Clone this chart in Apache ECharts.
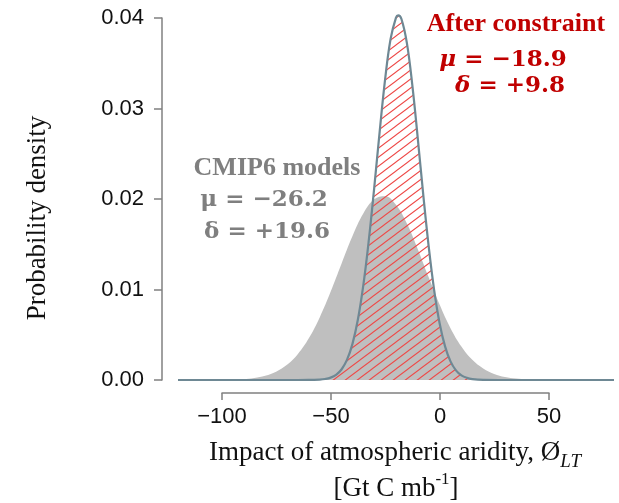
<!DOCTYPE html>
<html>
<head>
<meta charset="utf-8">
<script src="https://cdn.jsdelivr.net/npm/echarts@6/dist/echarts.min.js"></script>
<style>html,body{margin:0;padding:0;background:#fff;}#c{width:619px;height:503px;}</style>
</head>
<body>
<div id="c"></div>
<script>
// CMIP6 models distribution
const cmipX = [-120,-110,-100,-95,-90,-85,-80,-75,-70,-65,-60,-55,-50,-45,-40,-35,-30,-25,-20,-15,-10,-5,0,5,10,15,20,25,30,35,40,50,60,80];
const cmipY = [0,0.000002,0.000017,0.000043,0.000102,0.000226,0.000471,0.000917,0.001675,0.002867,0.004601,0.006911,0.00974,0.01285,0.01588,0.01840,0.01997,0.02031,0.01936,0.01729,0.01446,0.01134,0.00833,0.00573,0.00370,0.00223,0.00127,0.00067,0.00033,0.000156,0.000068,0.000011,0.000001,0];
// After constraint distribution
const afterX = [-120,-80,-70,-60,-55,-52.5,-50,-47.5,-45,-42.5,-40,-37.5,-35,-32.5,-30,-27.5,-25,-22.5,-20,-19,-17.5,-15,-12.5,-10,-7.5,-5,-2.5,0,2.5,5,7.5,10,12.5,15,20,30,80];
const afterY = [0,0,0,0.000006,0.000046,0.000113,0.000262,0.00057,0.001162,0.002217,0.003968,0.006654,0.01045,0.01539,0.02121,0.02742,0.03321,0.03767,0.04005,0.0403,0.03989,0.03723,0.03256,0.02668,0.02048,0.01474,0.00994,0.00628,0.00372,0.00206,0.00107,0.00052,0.000238,0.000102,0.000015,0,0];
const xTicks = [-100,-50,0,50];
const yTicks = [0,0.01,0.02,0.03,0.04];

// hatch pattern
const tile = document.createElement('canvas');
tile.width = 12; tile.height = 9;
const tc = tile.getContext('2d');
tc.strokeStyle = '#ee4a48';
tc.lineWidth = 1.1;
tc.beginPath();
tc.moveTo(-2, 9 + 1.5); tc.lineTo(14, -1.5);
tc.moveTo(-14, 9 + 1.5); tc.lineTo(2, -1.5);
tc.moveTo(10, 9 + 1.5); tc.lineTo(26, -1.5);
tc.stroke();

const chart = echarts.init(document.getElementById('c'), null, {renderer: 'canvas'});
const serif = '"Liberation Serif", "Times New Roman", serif';
const mathF = '"DejaVu Serif", serif';
const red = '#c00000';
const grey = '#7f7f7f';

chart.setOption({
  animation: false,
  backgroundColor: '#fff',
  grid: [
    {left: 178, right: 5, top: 18, bottom: 123},
    {left: 222, right: 70, top: 18, bottom: 123}
  ],
  xAxis: [
    {gridIndex: 0, type: 'value', min: -120, max: 80, show: false},
    {gridIndex: 1, type: 'value', min: xTicks[0], max: xTicks[xTicks.length-1], interval: 50, offset: 13,
     axisLine: {show: true, onZero: false, lineStyle: {color: '#808080', width: 1.5}},
     axisTick: {show: true, length: 7, lineStyle: {color: '#808080', width: 1.5}},
     splitLine: {show: false},
     axisLabel: {margin: 13, fontFamily: '"Liberation Sans", Arial, sans-serif', fontSize: 22, color: '#111',
       formatter: v => v < 0 ? '\u2212' + Math.abs(v) : String(v)}}
  ],
  yAxis: [
    {gridIndex: 0, type: 'value', min: yTicks[0], max: yTicks[yTicks.length-1], interval: 0.01, offset: 16,
     axisLine: {show: true, onZero: false, lineStyle: {color: '#808080', width: 1.5}},
     axisTick: {show: true, length: 8, lineStyle: {color: '#808080', width: 1.5}},
     splitLine: {show: false},
     axisLabel: {margin: 18, fontFamily: '"Liberation Sans", Arial, sans-serif', fontSize: 22, color: '#111',
       formatter: v => v.toFixed(2)}},
    {gridIndex: 1, type: 'value', min: 0, max: 0.04, show: false}
  ],
  series: [
    {
      name: 'CMIP6 models', type: 'line', xAxisIndex: 0, yAxisIndex: 0,
      data: cmipX.map((x, i) => [x, cmipY[i]]),
      smooth: 0.4, showSymbol: false, clip: false,
      lineStyle: {width: 0, color: '#bfbfbf'},
      areaStyle: {color: '#bfbfbf', opacity: 1},
      z: 1
    },
    {
      name: 'After constraint', type: 'line', xAxisIndex: 0, yAxisIndex: 0,
      data: afterX.map((x, i) => [x, afterY[i]]),
      smooth: 0.4, showSymbol: false, clip: false,
      lineStyle: {width: 2.2, color: '#6e8894'},
      areaStyle: {color: {image: tile, repeat: 'repeat'}, opacity: 1},
      z: 2
    }
  ],
  graphic: [
    {type: 'text', x: 38, y: 218, rotation: Math.PI / 2,
     style: {text: 'Probability density', font: '27px ' + serif, fill: '#111', align: 'center', verticalAlign: 'middle'}},
    {type: 'text', x: 395, y: 453,
     style: {text: '{m|Impact of atmospheric aridity, \u00d8}{s|LT}', align: 'center', verticalAlign: 'middle',
       rich: {m: {font: '27px ' + serif, fill: '#111', lineHeight: 36},
              s: {font: 'italic 19px ' + serif, fill: '#111', lineHeight: 18, verticalAlign: 'bottom'}}}},
    {type: 'text', x: 396, y: 489,
     style: {text: '{m|[Gt C mb}{p|-1}{m|]}', align: 'center', verticalAlign: 'middle',
       rich: {m: {font: '27px ' + serif, fill: '#111', lineHeight: 36},
              p: {font: '17px ' + serif, fill: '#111', lineHeight: 24, verticalAlign: 'top'}}}},
    {type: 'text', x: 516, y: 24,
     style: {text: 'After constraint', font: 'bold 26px ' + serif, fill: red, align: 'center', verticalAlign: 'middle'}},
    {type: 'text', x: 503, y: 60,
     style: {text: '{i|\u03bc}{n| = \u221218.9}', align: 'center', verticalAlign: 'middle',
       rich: {i: {font: 'italic bold 23px ' + mathF, fill: red}, n: {font: 'bold 23px ' + mathF, fill: red}}}},
    {type: 'text', x: 510, y: 86,
     style: {text: '{i|\u03b4}{n| = +9.8}', align: 'center', verticalAlign: 'middle',
       rich: {i: {font: 'italic bold 23px ' + mathF, fill: red}, n: {font: 'bold 23px ' + mathF, fill: red}}}},
    {type: 'text', x: 277, y: 168,
     style: {text: 'CMIP6 models', font: 'bold 26px ' + serif, fill: grey, align: 'center', verticalAlign: 'middle'}},
    {type: 'text', x: 264, y: 200,
     style: {text: '\u03bc = \u221226.2', font: 'bold 23px ' + mathF, fill: grey, align: 'center', verticalAlign: 'middle'}},
    {type: 'text', x: 267, y: 232,
     style: {text: '\u03b4 = +19.6', font: 'bold 23px ' + mathF, fill: grey, align: 'center', verticalAlign: 'middle'}}
  ]
});
</script>
</body>
</html>
